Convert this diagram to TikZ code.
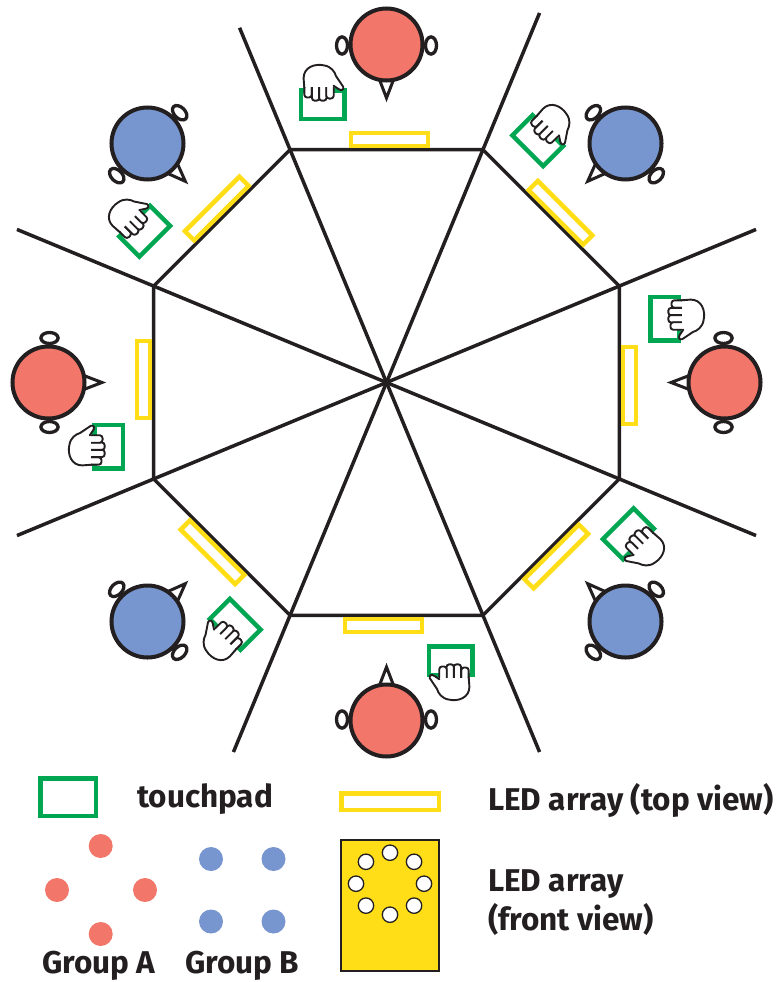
\documentclass[tikz,border=0pt]{standalone}
\usepackage{fontspec}
\setmainfont{Fira Sans}
\usetikzlibrary{calc}
\definecolor{ink}{HTML}{231F20}
\definecolor{groupA}{HTML}{F2766A}
\definecolor{groupB}{HTML}{7795CE}
\definecolor{padgreen}{HTML}{00A651}
\definecolor{ledyellow}{HTML}{FFDD17}

% A hand seen from above, fingers pointing along +y, thumb on the +x side
\newcommand\handpic{%
  \foreach \fx/\fy in {-13.3/14,-7/17,-1/17,5/15}{
    \draw[handline, fill=white, rounded corners=2.8]
      (\fx-3.1,-2) -- (\fx-3.1,\fy) -- (\fx+3.1,\fy) -- (\fx+3.1,-2);
  }
  \fill[white] (-16.5,4) -- (-17,-4)
    .. controls (-17,-14) and (-8,-18) .. (0,-16)
    .. controls (6,-15) and (9,-10) .. (10,-6)
    -- (16,4) .. controls (17,7) and (14,8) .. (12,6)
    -- (8,3) -- (8,4) -- cycle;
  \draw[handline] (-16.4,5) -- (-17,-4)
    .. controls (-17,-14) and (-8,-18) .. (0,-16)
    .. controls (6,-15) and (9,-10) .. (10,-6)
    -- (16,4) .. controls (17,7) and (14,8) .. (12,6)
    -- (8,3);
}

\begin{document}
\begin{tikzpicture}[x=1pt, y=-1pt,
  wall/.style={draw=ink, line width=3.5},
  ledtop/.style={draw=ledyellow, line width=4.5},
  pad/.style={draw=padgreen, line width=4.5},
  handline/.style={draw=ink, line width=1.9, line join=round, line cap=round},
  headline/.style={draw=ink, line width=4},
  ear/.style={draw=ink, fill=white, line width=3.3},
  nose/.style={draw=ink, fill=white, line width=3, line join=miter},
  dot/.style={radius=12},
  led/.style={draw=ink, fill=white, line width=1.3},
  lbl/.style={inner sep=0pt, text=ink, font=\bfseries\fontsize{31.5}{36}\selectfont}]

\useasboundingbox (0,0) rectangle (778,982);

% table centre, corners and the ends of the dividing lines
\coordinate (C) at (386.5,382.5);
\foreach \k in {1,...,8}{
  \coordinate (v\k) at ($(C)+({22.5+45*(\k-1)}:252)$);
}
\foreach \k/\len in {1/400,2/400,3/400,4/400,5/400,6/384,7/400,8/400}{
  \coordinate (e\k) at ($(C)+({22.5+45*(\k-1)}:\len)$);
}

\foreach \k in {1,...,8}{ \draw[wall] (C) -- (e\k); }
\draw[wall] (v1) -- (v2) -- (v3) -- (v4) -- (v5) -- (v6) -- (v7) -- (v8) -- cycle;

% eight seats: LED bar, touchpad with hand, and the player's head
\foreach \r/\col in {0/groupA,45/groupB,90/groupA,135/groupB,180/groupA,225/groupB,270/groupA,315/groupB}{
  \begin{scope}[shift={(C)}, rotate=\r]
    \draw[ledtop] (-35.5,-249.5) rectangle (41.5,-236.5);
    \draw[pad] (-85.75,-292.25) rectangle (-42.25,-263.75);
    \begin{scope}[shift={(-62.5,-300)}, xscale=1.2, yscale=1.07]
      \handpic
    \end{scope}
    \draw[ear] (-44.5,-337) ellipse [x radius=5.5, y radius=8.6];
    \draw[ear] (44.5,-337) ellipse [x radius=5.5, y radius=8.6];
    \draw[nose] (-9,-308) -- (0,-284.5) -- (9,-308) -- cycle;
    \draw[headline, fill=\col] (0,-338) circle [radius=36];
  \end{scope}
}

% legend
\draw[pad] (40.25,778.25) rectangle (95.75,815.75);
\node[lbl, anchor=base west] (ltouch) at (137,807) {touchpad};

\fill[groupA] (100.7,846) circle [dot];
\fill[groupA] (57,890) circle [dot];
\fill[groupA] (145,890) circle [dot];
\fill[groupA] (100.7,934) circle [dot];
\fill[groupB] (211,859) circle [dot];
\fill[groupB] (273.5,859) circle [dot];
\fill[groupB] (211,921.5) circle [dot];
\fill[groupB] (273.5,921.5) circle [dot];
\node[lbl, anchor=base west] (lga) at (42,973) {Group A};
\node[lbl, anchor=base west] (lgb) at (185,973) {Group B};

\draw[ledtop] (341.25,793.25) rectangle (438.75,809.75);
\node[lbl, anchor=base west] (ltop) at (488,810) {LED array (top view)};

\draw[draw=ink, fill=ledyellow, line width=1.3] (341,840) rectangle (439,971);
\foreach \a in {0,45,...,315}{
  \draw[led] ({390+34*cos(\a)},{883.7+31*sin(\a)}) circle [radius=7.7];
}
\node[lbl, anchor=base west] (lfront1) at (488,891.7) {LED array};
\node[lbl, anchor=base west] (lfront2) at (488,930) {(front view)};
\end{tikzpicture}
\end{document}
